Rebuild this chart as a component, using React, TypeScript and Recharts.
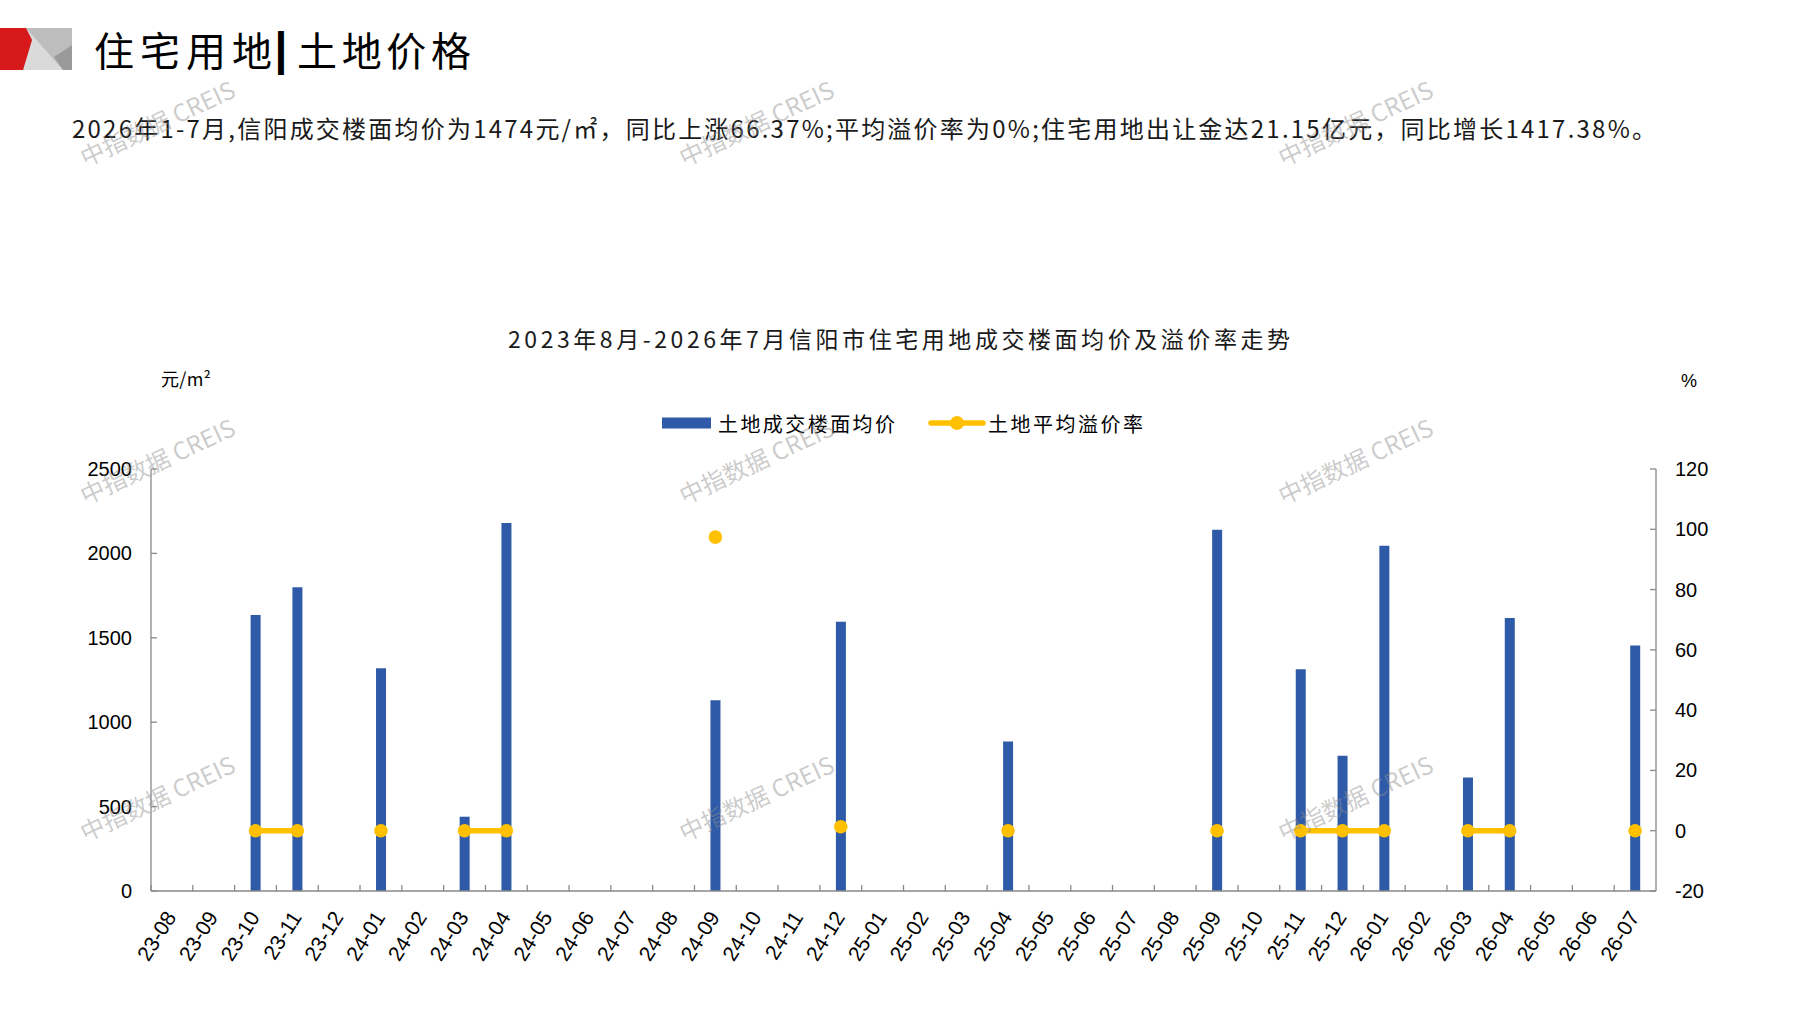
import React from 'react';
import { ComposedChart, Bar, Line, XAxis, YAxis, Legend } from 'recharts';

const months = [
  '23-08', '23-09', '23-10', '23-11', '23-12',
  '24-01', '24-02', '24-03', '24-04', '24-05', '24-06', '24-07', '24-08', '24-09', '24-10', '24-11', '24-12',
  '25-01', '25-02', '25-03', '25-04', '25-05', '25-06', '25-07', '25-08', '25-09', '25-10', '25-11', '25-12',
  '26-01', '26-02', '26-03', '26-04', '26-05', '26-06', '26-07',
];

const landPrice: (number | null)[] = [
  null, null, 1635, 1800, null,
  1320, null, 440, 2180, null, null, null, null, 1130, null, null, 1595,
  null, null, null, 885, null, null, null, null, 2140, null, 1313, 801,
  2045, null, 672, 1618, null, null, 1455,
];

const premiumRate: (number | null)[] = [
  null, null, 0, 0, null,
  0, null, 0, 0, null, null, null, null, 97.4, null, null, 1.3,
  null, null, null, 0, null, null, null, null, 0, null, 0, 0,
  0, null, 0, 0, null, null, 0,
];

const leftTicks = [0, 500, 1000, 1500, 2000, 2500];
const rightTicks = [-20, 0, 20, 40, 60, 80, 100, 120];
const seriesNames = ['土地成交楼面均价', '土地平均溢价率'];

const pageTitleA = '住宅用地';
const pageTitleSep = '|';
const pageTitleB = '土地价格';
const summary =
  '2026年1-7月,信阳成交楼面均价为1474元/㎡，同比上涨66.37%;平均溢价率为0%;住宅用地出让金达21.15亿元，同比增长1417.38%。';
const chartTitle = '2023年8月-2026年7月信阳市住宅用地成交楼面均价及溢价率走势';
const leftUnit = '元/m²';
const rightUnit = '%';
const watermark = '中指数据 CREIS';

const data = months.map((m, i) => ({ month: m, price: landPrice[i], rate: premiumRate[i] }));

const W = 1797;
const H = 1010;
const PLOT_LEFT = 151;
const PLOT_RIGHT = 1656;
const PLOT_TOP = 469;
const BAND = (PLOT_RIGHT - PLOT_LEFT) / months.length;

const BAR_COLOR = '#2E5AA8';
const LINE_COLOR = '#FFC000';
const AXIS_COLOR = '#898989';
const CJK = "'Noto Sans CJK SC', 'Noto Sans', sans-serif";
const LATIN = "'Liberation Sans', Arial, sans-serif";

const XTick = (props: any) => {
  const { x, y, payload } = props;
  return (
    <g>
      <line x1={x - BAND / 2} x2={x - BAND / 2} y1={y} y2={y - 6} stroke={AXIS_COLOR} strokeWidth={1.3} />
      <text
        transform={`translate(${x + 5},${y + 26}) rotate(-58)`}
        textAnchor="end"
        fontSize={21}
        fontFamily={LATIN}
        fill="#000"
      >
        {payload.value}
      </text>
    </g>
  );
};

const LeftTick = (props: any) => {
  const { x, y, payload } = props;
  return (
    <g>
      <line x1={x} x2={x + 6} y1={y} y2={y} stroke={AXIS_COLOR} strokeWidth={1.3} />
      <text x={x - 19} y={y + 7} textAnchor="end" fontSize={20} fontFamily={LATIN} fill="#000">
        {payload.value}
      </text>
    </g>
  );
};

const RightTick = (props: any) => {
  const { x, y, payload } = props;
  return (
    <g>
      <line x1={x} x2={x - 6} y1={y} y2={y} stroke={AXIS_COLOR} strokeWidth={1.3} />
      <text x={x + 19} y={y + 7} textAnchor="start" fontSize={20} fontFamily={LATIN} fill="#000">
        {payload.value}
      </text>
    </g>
  );
};

const LegendContent = (props: any) => {
  const payload = props.payload || [];
  const barItem = payload.find((p: any) => p.value === seriesNames[0]);
  const lineItem = payload.find((p: any) => p.value === seriesNames[1]);
  return (
    <svg width={W} height={30} style={{ display: 'block', overflow: 'visible' }}>
      <rect x={662} y={9.5} width={49} height={11} fill={barItem?.color || BAR_COLOR} />
      <text
        x={718}
        y={15}
        dominantBaseline="central"
        fontSize={20}
        fontFamily={CJK}
        fill="#000"
        textLength={177}
        lengthAdjust="spacing"
      >
        {barItem?.value || seriesNames[0]}
      </text>
      <line x1={931} x2={983} y1={15} y2={15} stroke={lineItem?.color || LINE_COLOR} strokeWidth={5.5} strokeLinecap="round" />
      <circle cx={957} cy={15} r={7} fill={lineItem?.color || LINE_COLOR} />
      <text
        x={988}
        y={15}
        dominantBaseline="central"
        fontSize={20}
        fontFamily={CJK}
        fill="#000"
        textLength={155}
        lengthAdjust="spacing"
      >
        {lineItem?.value || seriesNames[1]}
      </text>
    </svg>
  );
};

const wmX = [157, 756, 1355];
const wmY = [122, 460, 797];

export default function App() {
  return (
    <div style={{ position: 'absolute', left: 0, top: 0, width: W, height: H, background: '#fff', overflow: 'hidden' }}>
      <div style={{ position: 'absolute', left: 0, top: 0 }}>
        <ComposedChart
          width={W}
          height={H}
          data={data}
          margin={{ top: PLOT_TOP, right: 0, bottom: 19, left: 0 }}
        >
          <XAxis
            dataKey="month"
            interval={0}
            height={100}
            axisLine={{ stroke: AXIS_COLOR, strokeWidth: 1.3 }}
            tickLine={false}
            tickSize={0}
            tickMargin={0}
            tick={<XTick />}
          />
          <YAxis
            yAxisId="left"
            orientation="left"
            width={PLOT_LEFT}
            domain={[0, 2500]}
            ticks={leftTicks}
            allowDataOverflow
            axisLine={{ stroke: AXIS_COLOR, strokeWidth: 1.3 }}
            tickLine={false}
            tickSize={0}
            tickMargin={0}
            tick={<LeftTick />}
          />
          <YAxis
            yAxisId="right"
            orientation="right"
            width={W - PLOT_RIGHT}
            domain={[-20, 120]}
            ticks={rightTicks}
            allowDataOverflow
            axisLine={{ stroke: AXIS_COLOR, strokeWidth: 1.3 }}
            tickLine={false}
            tickSize={0}
            tickMargin={0}
            tick={<RightTick />}
          />
          <Legend
            layout="horizontal"
            verticalAlign="middle"
            align="center"
            wrapperStyle={{ left: 0, top: 408, width: W, height: 30 }}
            content={<LegendContent />}
          />
          <Bar
            yAxisId="left"
            dataKey="price"
            name={seriesNames[0]}
            fill={BAR_COLOR}
            barSize={10}
            isAnimationActive={false}
          />
          <Line
            yAxisId="right"
            type="linear"
            dataKey="rate"
            name={seriesNames[1]}
            stroke={LINE_COLOR}
            strokeWidth={5.5}
            connectNulls={false}
            dot={{ r: 6.8, fill: LINE_COLOR, stroke: LINE_COLOR, strokeWidth: 0 }}
            activeDot={false}
            isAnimationActive={false}
          />
        </ComposedChart>
      </div>
      <svg
        width={W}
        height={H}
        style={{ position: 'absolute', left: 0, top: 0, pointerEvents: 'none' }}
      >
        {/* logo */}
        <rect x={22} y={28} width={50} height={42} fill="#bdbdbd" />
        <polygon points="26,28 63,70 23,70 32,40" fill="#dadada" />
        <polygon points="72,45 54,57 63,70 72,70" fill="#9a9a9a" />
        <polygon points="0,28 26,28 32,40 23,70 0,70" fill="#D7191C" />
        {/* page title */}
        <text x={94} y={49} dominantBaseline="central" fontSize={40} fontFamily={CJK} fill="#000" textLength={178} lengthAdjust="spacing">
          {pageTitleA}
        </text>
        <text x={281} y={49} dominantBaseline="central" textAnchor="middle" fontSize={46} fontWeight={700} fontFamily={LATIN} fill="#000">
          {pageTitleSep}
        </text>
        <text x={297} y={49} dominantBaseline="central" fontSize={40} fontFamily={CJK} fill="#000" textLength={174} lengthAdjust="spacing">
          {pageTitleB}
        </text>
        {/* summary */}
        <text x={72} y={127} dominantBaseline="central" fontSize={24} fontFamily={CJK} fill="#1a1a1a" textLength={1584} lengthAdjust="spacing">
          {summary}
        </text>
        {/* chart title */}
        <text x={508} y={338} dominantBaseline="central" fontSize={23} fontFamily={CJK} fill="#1a1a1a" textLength={782} lengthAdjust="spacing">
          {chartTitle}
        </text>
        {/* units */}
        <text x={161} y={378} dominantBaseline="central" fontSize={18} fontFamily={CJK} fill="#000" textLength={50} lengthAdjust="spacing">
          {leftUnit}
        </text>
        <text x={1681} y={381} dominantBaseline="central" fontSize={18} fontFamily={LATIN} fill="#000">
          {rightUnit}
        </text>
        {/* watermarks */}
        {wmY.map((wy) =>
          wmX.map((wx) => (
            <text
              key={`${wx}-${wy}`}
              transform={`translate(${wx},${wy}) rotate(-25)`}
              textAnchor="middle"
              dominantBaseline="central"
              fontSize={24}
              fontFamily={CJK}
              fill="#8c8c8c"
              fillOpacity={0.45}
            >
              {watermark}
            </text>
          ))
        )}
      </svg>
    </div>
  );
}
